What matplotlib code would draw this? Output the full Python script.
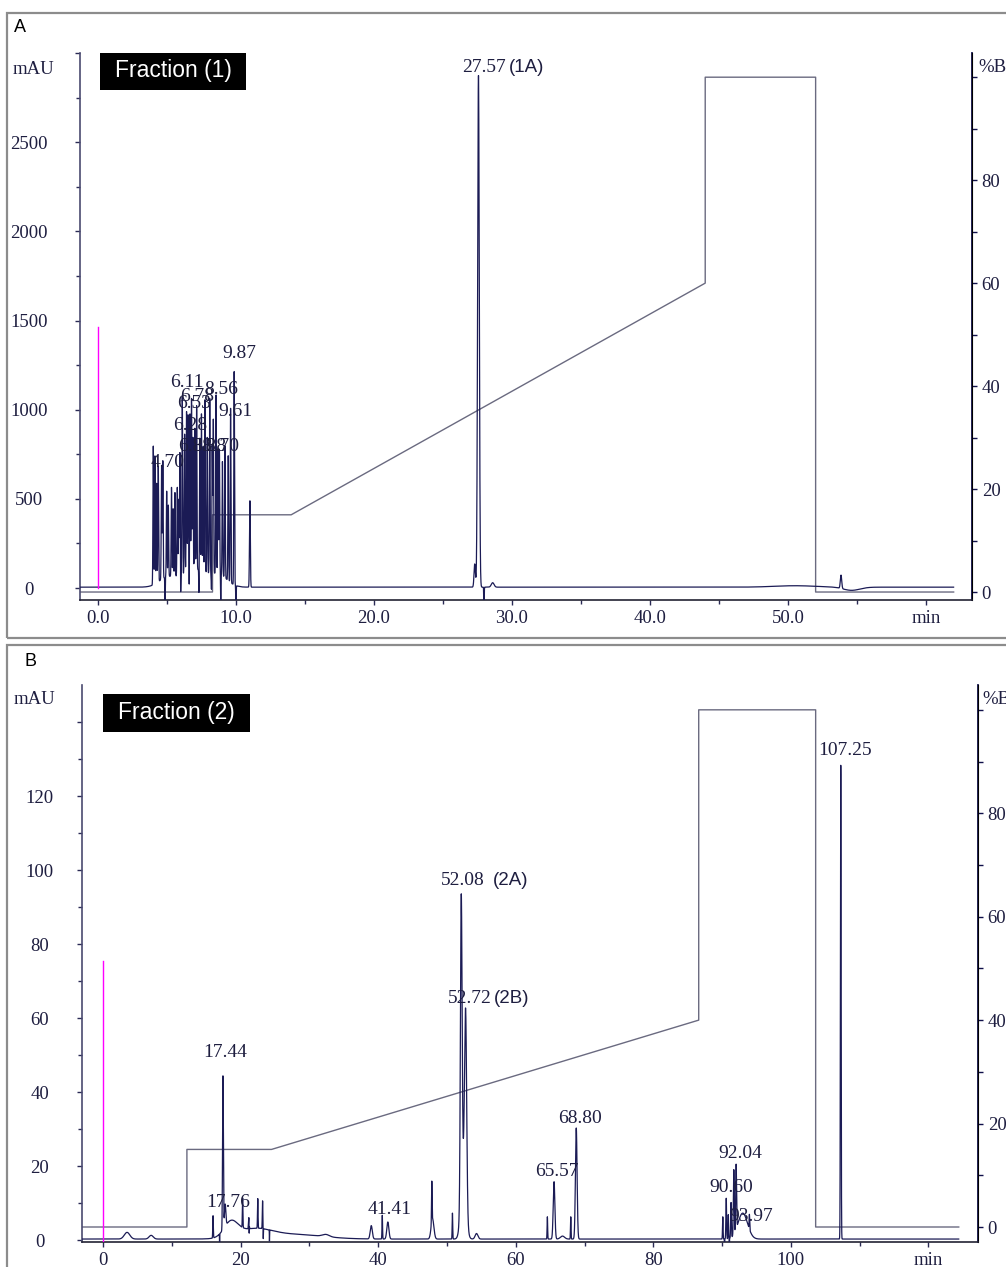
import numpy as np
import matplotlib
matplotlib.use("Agg")
import matplotlib.pyplot as plt
from matplotlib.patches import Rectangle

SERIF = "Liberation Serif"
SANS = "Liberation Sans"
NAVY = "#1b1b55"
GRAD = "#6a6a80"
TXT = "#1e1e40"

# ---------------- panel A data (Fraction 1) ----------------
a_peak_t = [4.01, 4.13, 4.25, 4.37, 4.61, 4.70, 4.98, 5.10, 5.33, 5.45, 5.58, 5.75, 5.85,
            5.94, 6.11, 6.28, 6.42, 6.53, 6.67, 6.78, 6.88, 7.02, 7.15, 7.38, 7.50, 7.62,
            7.75, 7.92, 8.10, 8.28, 8.36, 8.56, 8.70, 8.80, 9.02, 9.20, 9.44, 9.61, 9.87,
            11.01, 27.30, 27.57, 28.60, 50.5, 53.84, 54.6]
a_peak_h = [780, 720, 560, 650, 640, 660, 480, 400, 500, 380, 470, 500, 430,
            690, 1000, 780, 900, 880, 880, 960, 740, 790, 920, 740, 880, 700,
            970, 760, 980, 720, 860, 1000, 700, 700, 640, 740, 700, 980, 1200,
            485, 130, 2870, 25, 8, 75, -18]
a_peak_w = [0.025] * 39 + [0.03, 0.05, 0.06, 0.1, 1.5, 0.05, 0.6]
a_hump_t = [5.0, 7.0, 8.8]
a_hump_h = [50, 100, 60]
a_hump_w = [0.6, 0.9, 0.6]
a_neg_t = [4.86, 5.99, 6.62, 7.32, 8.23, 8.90, 10.0, 27.97]
a_base = 5.0
a_grad_t = [-1.3, 8.3, 8.3, 14.0, 44.0, 44.0, 52.0, 52.0, 62.0]
a_grad_b = [0, 0, 15, 15, 60, 100, 100, 0, 0]
a_labels = [("27.57", 26.4, 2921, "left"), ("9.87", 10.22, 1315, "center"),
            ("6.11", 6.45, 1152, "center"), ("8.56", 8.91, 1112, "center"),
            ("6.78", 7.17, 1073, "center"), ("6.53", 6.96, 1034, "center"),
            ("9.61", 9.93, 989, "center"), ("6.28", 6.67, 910, "center"),
            ("6.88", 7.03, 792, "center"), ("8.28", 8.04, 792, "center"),
            ("8.70", 8.99, 792, "center"), ("4.70", 5.07, 702, "center")]
a_tags = [("(1A)", 29.8, 2921)]

# ---------------- panel B data (Fraction 2) ----------------
b_peak_t = [3.5, 7.0, 16.0, 17.44, 17.76, 20.3, 21.2, 22.5, 23.2, 18.6, 22.0, 28.0, 32.4,
            39.0, 40.6, 41.41, 47.8, 47.9, 50.8, 52.08, 52.72, 52.4, 54.3,
            64.6, 65.57, 66.8, 68.0, 68.80, 90.1, 90.60, 90.9, 91.3, 91.7, 92.04, 93.0,
            93.97, 107.25]
b_peak_h = [1.8, 1.0, 6.0, 41.5, 6.0, 8.0, 3.0, 8.0, 7.5, 4.0, 2.5, 1.2, 0.6,
            3.6, 6.4, 4.6, 10.8, 5.5, 7.0, 80.0, 49.0, 20.0, 1.5,
            6.0, 15.5, 0.8, 6.0, 30.0, 6.0, 11.0, 6.5, 9.5, 17.5, 17.5, 7.0,
            4.0, 128.0]
b_peak_w = [0.4, 0.3, 0.04, 0.06, 0.1, 0.04, 0.05, 0.04, 0.04, 1.0, 2.5, 4.0, 0.5,
            0.15, 0.04, 0.15, 0.04, 0.2, 0.04, 0.12, 0.15, 0.35, 0.2,
            0.04, 0.12, 0.3, 0.04, 0.12, 0.04, 0.05, 0.04, 0.05, 0.06, 0.06, 0.7,
            0.04, 0.05]
b_neg_t = [16.95, 21.25, 23.3, 24.2, 90.35, 91.05]
b_base = 0.3
b_grad_t = [-3.05, 12.2, 12.2, 24.5, 86.6, 86.6, 103.6, 103.6, 124.4]
b_grad_b = [0, 0, 15, 15, 40, 100, 100, 0, 0]
b_labels = [("17.44", 17.73, 50.8, "center"), ("17.76", 18.17, 10.3, "center"),
            ("41.41", 41.7, 8.4, "center"), ("52.08", 52.3, 97.3, "center"),
            ("52.72", 53.3, 65.4, "center"), ("65.57", 66.0, 18.6, "center"),
            ("68.80", 69.3, 33.0, "center"), ("92.04", 92.6, 23.5, "center"),
            ("90.60", 91.3, 14.1, "center"), ("93.97", 94.3, 6.5, "center"),
            ("107.25", 107.8, 132.2, "center")]
b_tags = [("(2A)", 59.2, 97.3), ("(2B)", 59.4, 65.4)]


def chromatogram(t, pt, ph, pw, neg_t, neg_h, base):
    y = np.full_like(t, base)
    for c, h, w in zip(pt, ph, pw):
        y += h * np.exp(-0.5 * ((t - c) / w) ** 2)
    for c in neg_t:
        y += neg_h * np.exp(-0.5 * ((t - c) / 0.015) ** 2)
    return y


def style_axes(ax, ax2, xlim, ylim, y2lim, xt, xtl, xminor, yt, ytl, yminor, lpad):
    ax.set_xlim(*xlim)
    ax.set_ylim(*ylim)
    ax2.set_ylim(*y2lim)
    for a in (ax, ax2):
        a.spines["top"].set_visible(False)
        a.set_facecolor("none")
    ax.spines["left"].set_color("#4a4a70")
    ax.spines["bottom"].set_color("#222233")
    ax2.spines["right"].set_color("#10104a")
    ax2.spines["left"].set_visible(False)
    ax2.spines["bottom"].set_visible(False)
    for sp in ("left", "bottom"):
        ax.spines[sp].set_linewidth(1.2)
    ax2.spines["right"].set_linewidth(1.3)
    ax.set_xticks(xt)
    ax.set_xticklabels(xtl)
    ax.set_xticks(xminor, minor=True)
    ax.set_yticks(yt)
    ax.set_yticklabels(ytl)
    ax.set_yticks(yminor, minor=True)
    ax2.set_yticks([0, 20, 40, 60, 80, 100])
    ax2.set_yticklabels(["0", "20", "40", "60", "80", ""])
    ax2.set_yticks(np.arange(10, 100, 20), minor=True)
    ax.tick_params(axis="both", which="both", direction="out", colors="#2a2a55",
                   labelcolor=TXT, labelsize=13.5)
    ax.tick_params(which="major", length=3.5, width=1)
    ax.tick_params(which="minor", length=3, width=1)
    ax.tick_params(axis="y", pad=lpad)
    ax2.tick_params(axis="y", which="both", direction="out", colors="#10104a",
                    labelcolor=TXT, labelsize=13.5, length=3.5, width=1)
    for lbl in ax.get_yticklabels():
        lbl.set_horizontalalignment("center")
    for lbl in ax.get_xticklabels() + ax.get_yticklabels() + ax2.get_yticklabels():
        lbl.set_fontfamily(SERIF)


fig = plt.figure(figsize=(10.06, 12.67), dpi=100)
W, H = 1006.0, 1267.0

# panel frames
fig.add_artist(Rectangle((7 / W, 1 - 638 / H), 1010 / W, 625 / H, transform=fig.transFigure,
                         fill=False, ec="#8c8c8c", lw=1.6))
fig.add_artist(Rectangle((7 / W, 1 - 1275 / H), 1010 / W, 630 / H, transform=fig.transFigure,
                         fill=False, ec="#8c8c8c", lw=1.6))
fig.text(14 / W, 1 - 28 / H, "A", fontsize=13, family=SANS, ha="left", va="center", color="black")
fig.text(25 / W, 1 - 662 / H, "B", fontsize=13, family=SANS, ha="left", va="center", color="black")

# ---------------- panel A ----------------
axA = fig.add_axes([80 / W, 1 - 600 / H, 892 / W, 547 / H])
axA2 = axA.twinx()
tA = np.arange(-1.3, 62.0, 0.004)
yA = chromatogram(tA, a_peak_t + a_hump_t, a_peak_h + a_hump_h, a_peak_w + a_hump_w,
                  a_neg_t, -160, a_base)
axA2.plot(a_grad_t, a_grad_b, color=GRAD, lw=1.0, zorder=1)
axA.plot(tA, yA, color=NAVY, lw=0.9, zorder=3)
axA.plot([0, 0], [0, 1466], color="#ff00ff", lw=1.0, zorder=4)
axA.set_zorder(axA2.get_zorder() + 1)
style_axes(axA, axA2, (-1.3, 63.33), (-67, 3000), (-1.55, 104.7),
           [0, 10, 20, 30, 40, 50, 60], ["0.0", "10.0", "20.0", "30.0", "40.0", "50.0", "min"],
           [5, 15, 25, 35, 45, 55],
           [0, 500, 1000, 1500, 2000, 2500, 3000], ["0", "500", "1000", "1500", "2000", "2500", ""],
           np.arange(250, 3000, 500), 33)
for txt, x, y, ha in a_labels:
    axA.text(x, y, txt, fontsize=14, family=SERIF, color=TXT, ha=ha, va="center", zorder=5)
for txt, x, y in a_tags:
    axA.text(x, y, txt, fontsize=13.5, family=SANS, color=TXT, ha="left", va="center", zorder=5)

fig.add_artist(Rectangle((100 / W, 1 - 90 / H), 146 / W, 37 / H, transform=fig.transFigure,
                         fc="black", ec="none"))
fig.text(173 / W, 1 - 71 / H, "Fraction (1)", fontsize=16.5, family=SANS, color="white",
         ha="center", va="center")
fig.text(33 / W, 1 - 70 / H, "mAU", fontsize=13.5, family=SERIF, color=TXT, ha="center", va="center")
fig.text(978 / W, 1 - 68 / H, "%B", fontsize=13.5, family=SERIF, color=TXT, ha="left", va="center")

# ---------------- panel B ----------------
axB = fig.add_axes([82 / W, 1 - 1242 / H, 896 / W, 557 / H])
axB2 = axB.twinx()
tB = np.arange(-3.05, 124.4, 0.005)
yB = chromatogram(tB, b_peak_t, b_peak_h, b_peak_w, b_neg_t, -3.0, b_base)
axB2.plot(b_grad_t, b_grad_b, color=GRAD, lw=1.0, zorder=1)
axB.plot(tB, yB, color=NAVY, lw=0.9, zorder=3)
axB.plot([0, 0], [-0.5, 75.5], color="#ff00ff", lw=1.0, zorder=4)
axB.set_zorder(axB2.get_zorder() + 1)
style_axes(axB, axB2, (-3.05, 127.2), (-0.5, 150), (-2.9, 104.8),
           [0, 20, 40, 60, 80, 100, 120], ["0", "20", "40", "60", "80", "100", "min"],
           [10, 30, 50, 70, 90, 110],
           [0, 20, 40, 60, 80, 100, 120, 140], ["0", "20", "40", "60", "80", "100", "120", ""],
           np.arange(10, 150, 20), 27)
for txt, x, y, ha in b_labels:
    axB.text(x, y, txt, fontsize=14, family=SERIF, color=TXT, ha=ha, va="center", zorder=5)
for txt, x, y in b_tags:
    axB.text(x, y, txt, fontsize=13.5, family=SANS, color=TXT, ha="center", va="center", zorder=5)

fig.add_artist(Rectangle((103 / W, 1 - 732 / H), 147 / W, 38 / H, transform=fig.transFigure,
                         fc="black", ec="none"))
fig.text(176.5 / W, 1 - 713 / H, "Fraction (2)", fontsize=16.5, family=SANS, color="white",
         ha="center", va="center")
fig.text(34 / W, 1 - 700 / H, "mAU", fontsize=13.5, family=SERIF, color=TXT, ha="center", va="center")
fig.text(982 / W, 1 - 700 / H, "%B", fontsize=13.5, family=SERIF, color=TXT, ha="left", va="center")

fig.savefig("out.png", dpi=100)
